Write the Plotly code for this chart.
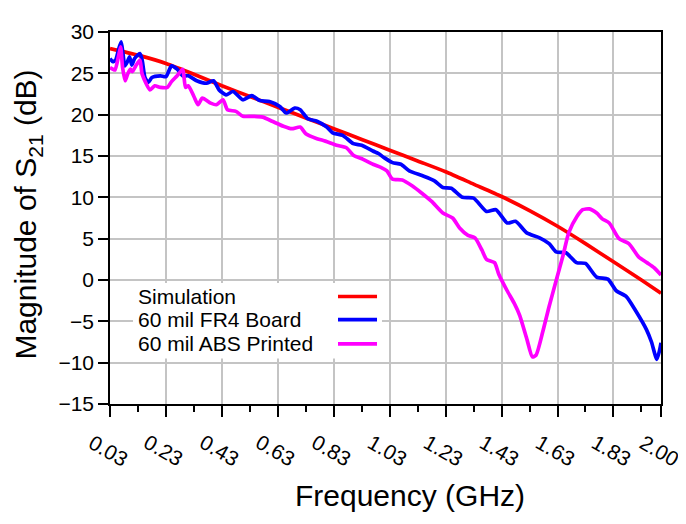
import plotly.graph_objects as go

# ---- data ----
sim_f = [0.03, 0.13, 0.23, 0.33, 0.43, 0.53, 0.63, 0.73, 0.83, 0.93, 1.03,
         1.13, 1.23, 1.33, 1.43, 1.53, 1.63, 1.73, 1.83, 1.93, 2.00]
sim_db = [28.0, 27.2, 26.2, 24.9, 23.5, 22.2, 20.9, 19.6, 18.3, 17.0, 15.7,
          14.4, 13.1, 11.6, 10.1, 8.4, 6.5, 4.4, 2.2, 0.0, -1.6]

fr4_f = [0.030, 0.040, 0.050, 0.060, 0.070, 0.077, 0.083, 0.092, 0.100, 0.108,
         0.118, 0.137, 0.145, 0.155, 0.167, 0.18, 0.21, 0.23, 0.25, 0.27,
         0.29, 0.31, 0.34, 0.375, 0.40, 0.42, 0.445, 0.47, 0.505, 0.537,
         0.565, 0.60, 0.637, 0.66, 0.69, 0.71, 0.737, 0.77, 0.805, 0.826,
         0.862, 0.90, 0.93, 0.97, 0.99, 1.01, 1.04, 1.07, 1.10, 1.148,
         1.19, 1.22, 1.25, 1.29, 1.33, 1.376, 1.41, 1.45, 1.48, 1.52,
         1.566, 1.60, 1.625, 1.66, 1.698, 1.73, 1.77, 1.81, 1.84, 1.876,
         1.91, 1.948, 1.966, 1.985, 1.995, 2.00]
fr4_db = [26.8, 26.4, 26.6, 27.8, 28.8, 27.2, 25.9, 26.4, 27.0, 26.0,
          26.8, 27.4, 26.6, 24.5, 23.9, 24.5, 24.7, 24.6, 25.9, 25.5,
          24.7, 24.7, 24.1, 23.8, 24.1, 23.0, 22.4, 22.8, 21.8, 22.3,
          21.7, 21.6, 21.0, 20.2, 20.8, 20.6, 19.5, 19.2, 18.5, 17.8,
          17.5, 16.5, 16.3, 15.6, 15.3, 14.8, 14.2, 14.0, 13.2, 12.6,
          12.0, 11.2, 11.1, 10.0, 9.9, 8.3, 8.5, 6.9, 7.1, 5.7,
          5.1, 4.4, 3.4, 3.3, 2.1, 2.0, 0.35, 0.1, -1.3, -2.0,
          -3.75, -6.0, -7.5, -9.6, -8.5, -7.6]

abs_f = [0.030, 0.040, 0.048, 0.060, 0.068, 0.075, 0.084, 0.093, 0.103, 0.110,
         0.122, 0.137, 0.145, 0.173, 0.19, 0.21, 0.235, 0.25, 0.27, 0.29,
         0.30, 0.31, 0.33, 0.345, 0.36, 0.39, 0.41, 0.434, 0.45, 0.48,
         0.505, 0.54, 0.576, 0.61, 0.65, 0.68, 0.71, 0.73, 0.77, 0.80,
         0.84, 0.875, 0.90, 0.935, 0.97, 1.00, 1.02, 1.04, 1.075, 1.11,
         1.145, 1.18, 1.22, 1.255, 1.28, 1.31, 1.335, 1.36, 1.376, 1.405,
         1.42, 1.45, 1.475, 1.495, 1.52, 1.54, 1.553, 1.577, 1.60, 1.625,
         1.65, 1.67, 1.70, 1.72, 1.744, 1.77, 1.79, 1.815, 1.85, 1.885,
         1.92, 1.95, 1.975, 2.00]
abs_db = [25.7, 25.5, 25.4, 27.0, 28.2, 25.7, 24.1, 24.9, 25.5, 25.2,
          25.9, 26.6, 24.9, 23.0, 23.5, 23.3, 23.3, 24.0, 24.7, 25.5,
          23.3, 23.5, 22.2, 21.2, 22.0, 21.4, 21.2, 21.8, 20.6, 20.4,
          19.8, 19.8, 19.7, 19.2, 18.6, 18.3, 18.5, 17.7, 17.1, 16.8,
          16.3, 16.0, 15.1, 14.6, 14.0, 13.6, 13.2, 12.2, 12.1, 11.4,
          10.5, 9.5, 8.1, 7.5, 6.3, 5.4, 5.1, 3.6, 2.5, 2.1,
          0.7, -1.3, -2.8, -4.3, -7.1, -9.3, -9.1, -6.3, -3.2, -0.1,
          3.0, 5.7, 7.7, 8.5, 8.6, 8.1, 7.4, 6.9, 5.0, 4.4,
          2.8, 2.1, 1.5, 0.6]

series_names = ["Simulation", "60 mil FR4 Board", "60 mil ABS Printed"]
series_colors = ["#ff0000", "#0000ff", "#ff00ff"]

x_tickvals = [0.03, 0.23, 0.43, 0.63, 0.83, 1.03, 1.23, 1.43, 1.63, 1.83, 2.00]
x_ticktext = ["0.03", "0.23", "0.43", "0.63", "0.83", "1.03", "1.23", "1.43",
              "1.63", "1.83", "2.00"]
x_minor = [0.13, 0.33, 0.53, 0.73, 0.93, 1.13, 1.33, 1.53, 1.73, 1.93]
y_tickvals = [30, 25, 20, 15, 10, 5, 0, -5, -10, -15]

FONT = "Liberation Sans, Arial, sans-serif"

fig = go.Figure()
for f, d, name, col in zip([sim_f, fr4_f, abs_f], [sim_db, fr4_db, abs_db],
                           series_names, series_colors):
    fig.add_trace(go.Scatter(
        x=f, y=d, mode="lines", name=name, showlegend=False,
        line=dict(color=col, width=3.7, shape="spline", smoothing=0.6)))

# tick labels (rotated, centred on ticks)
for v, t in zip(x_tickvals, x_ticktext):
    fig.add_annotation(x=v, y=-0.125, xref="x", yref="paper", text=t,
                       showarrow=False, textangle=30, xshift=-2,
                       xanchor="center", yanchor="middle",
                       font=dict(family=FONT, size=21, color="black"))

# axis titles
fig.add_annotation(x=0.544, y=-0.247, xref="paper", yref="paper",
                   text="Frequency (GHz)", showarrow=False,
                   xanchor="center", yanchor="middle",
                   font=dict(family=FONT, size=30, color="black"))
fig.add_annotation(x=-0.149, y=0.509, xref="paper", yref="paper",
                   text="Magnitude of S<sub>21</sub> (dB)", showarrow=False,
                   textangle=-90, xanchor="center", yanchor="middle",
                   font=dict(family=FONT, size=30, color="black"))

# legend (text left, line sample right)
fig.add_shape(type="rect", xref="paper", yref="paper",
              x0=0.0417, x1=0.4936, y0=0.1224, y1=0.3255,
              fillcolor="white", line=dict(width=0), layer="above")
row_y = [0.289, 0.2266, 0.1615]
for name, col, ry in zip(series_names, series_colors, row_y):
    fig.add_annotation(x=0.0472, y=ry, xref="paper", yref="paper",
                       text=name, showarrow=False, xanchor="left",
                       yanchor="middle",
                       font=dict(family=FONT, size=21, color="black"))
    fig.add_shape(type="line", xref="paper", yref="paper",
                  x0=0.4138, x1=0.4846, y0=ry, y1=ry,
                  line=dict(color=col, width=3.7), layer="above")

fig.update_xaxes(
    range=[0.03, 2.00], tickmode="array", tickvals=x_tickvals,
    showticklabels=False, ticks="outside", ticklen=11, tickwidth=1.5,
    tickcolor="black", showline=True, linecolor="black", linewidth=1.5,
    mirror=True, showgrid=True, gridcolor="#c4c4c4", gridwidth=1.5,
    zeroline=False,
    minor=dict(tickvals=x_minor, ticks="outside", ticklen=6, tickwidth=1.5,
               tickcolor="black", showgrid=False))
fig.update_yaxes(
    range=[-15, 30], tickmode="array", tickvals=y_tickvals,
    ticks="outside", ticklen=10, tickwidth=1.5, tickcolor="black",
    showline=True, linecolor="black", linewidth=1.5, mirror=True,
    showgrid=True, gridcolor="#c4c4c4", gridwidth=1.5, zeroline=False,
    tickfont=dict(family=FONT, size=21, color="black"))

# page body has an 8px default margin, so the figure is sized to fit
fig.update_layout(
    width=678, height=516,
    margin=dict(l=102, r=25, t=12, b=120),
    paper_bgcolor="white", plot_bgcolor="white",
    font=dict(family=FONT, color="black"),
    showlegend=False)

fig.write_html("out.html")
